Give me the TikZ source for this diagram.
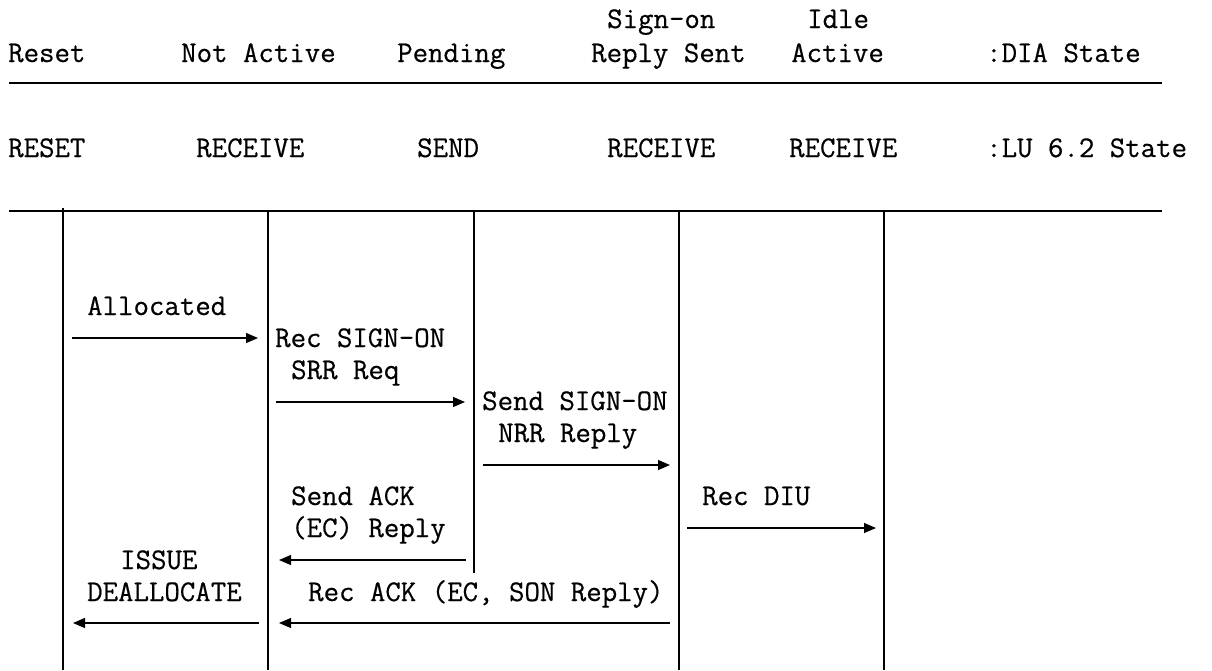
\documentclass[tikz,border=0pt]{standalone}
\usepackage{fontspec}
\usetikzlibrary{arrows.meta}
% typewriter face, slightly heavier than the stock weight
\newfontfamily\typeface[FakeBold=0.5]{Latin Modern Mono}
\begin{document}
\begin{tikzpicture}[x=1pt,y=-1pt,
  txt/.style={anchor=base west, inner sep=0pt, font=\typeface\fontsize{30}{36}\selectfont},
  rule/.style={line width=1.3pt},
  life/.style={line width=1.3pt},
  msg/.style={line width=1.2pt, -{Triangle[length=12pt,width=10pt]}}]
\fill[white] (0,0) rectangle (1212,670);
\useasboundingbox (0,0) rectangle (1212,670);

% --- state header: DIA states ---
\node[txt] (hSign)  at (607,28) {Sign-on};
\node[txt] (hIdle)  at (807,28) {Idle};
\node[txt] (hReset) at (8,62)   {Reset};
\node[txt] (hNotAct) at (181,62) {Not Active};
\node[txt] (hPend)  at (397,62) {Pending};
\node[txt] (hReply) at (591,62) {Reply Sent};
\node[txt] (hAct)   at (791,62) {Active};
\node[txt] (hDia)   at (986,62) {:DIA State};

% --- state header: LU 6.2 states ---
\node[txt] (lReset) at (8,157)   {RESET};
\node[txt] (lRec1)  at (196,157) {RECEIVE};
\node[txt] (lSend)  at (417,157) {SEND};
\node[txt] (lRec2)  at (607,157) {RECEIVE};
\node[txt] (lRec3)  at (789,157) {RECEIVE};
\node[txt] (lLu)    at (986,157) {:LU 6.2 State};

% --- horizontal rules ---
\coordinate (r1a) at (9,83);   \coordinate (r1b) at (1162,83);
\coordinate (r2a) at (9,211);  \coordinate (r2b) at (1162,211);
\draw[rule] (r1a) -- (r1b);
\draw[rule] (r2a) -- (r2b);

% --- state lifelines ---
\coordinate (s1t) at (63,208);  \coordinate (s1b) at (63,670);
\coordinate (s2t) at (268,211); \coordinate (s2b) at (268,670);
\coordinate (s3t) at (474,211); \coordinate (s3b) at (474,573);
\coordinate (s4t) at (679,211); \coordinate (s4b) at (679,670);
\coordinate (s5t) at (884,211); \coordinate (s5b) at (884,670);
\foreach \i in {1,...,5} \draw[life] (s\i t) -- (s\i b);

% --- transition labels ---
\node[txt] (tAlloc) at (87,315)  {Allocated};
\node[txt] (tRecA)  at (275,347) {Rec SIGN-ON};
\node[txt] (tRecB)  at (291,379) {SRR Req};
\node[txt] (tSndA)  at (482,410) {Send SIGN-ON};
\node[txt] (tSndB)  at (498,442) {NRR Reply};
\node[txt] (tAckA)  at (291,505) {Send ACK};
\node[txt] (tAckB)  at (291,537) {(EC) Reply};
\node[txt] (tDiu)   at (702,505) {Rec DIU};
\node[txt] (tIss)   at (120,569) {ISSUE};
\node[txt] (tDeal)  at (87,601)  {DEALLOCATE};
\node[txt] (tRack)  at (308,601) {Rec ACK (EC, SON Reply)};

% --- transition arrows ---
\coordinate (a1s) at (72,338);  \coordinate (a1e) at (258,338);
\coordinate (a2s) at (276,402); \coordinate (a2e) at (465,402);
\coordinate (a3s) at (483,465); \coordinate (a3e) at (670,465);
\coordinate (a4s) at (687,528); \coordinate (a4e) at (876,528);
\coordinate (a5s) at (466,560); \coordinate (a5e) at (279,560);
\coordinate (a6s) at (259,623); \coordinate (a6e) at (73,623);
\coordinate (a7s) at (670,623); \coordinate (a7e) at (279,623);
\foreach \i in {1,...,7} \draw[msg] (a\i s) -- (a\i e);
\end{tikzpicture}
\end{document}
